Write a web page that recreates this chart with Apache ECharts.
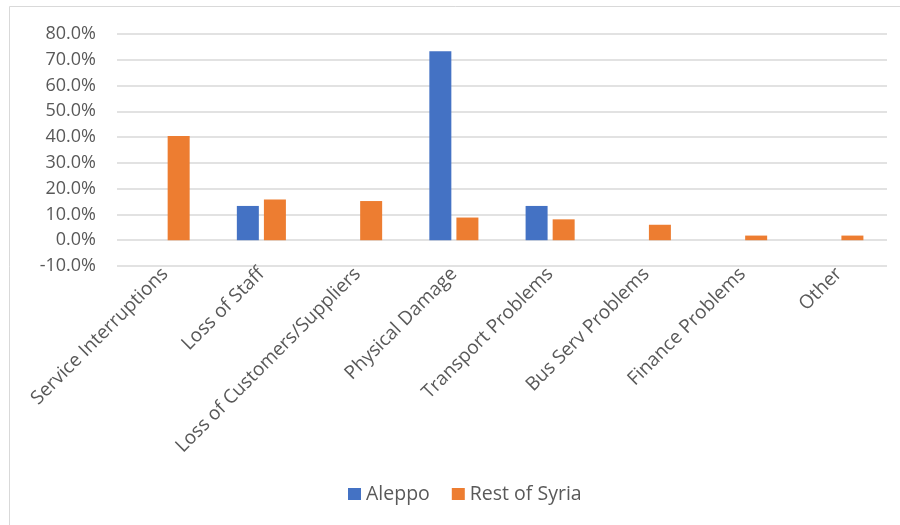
<!DOCTYPE html>
<html>
<head>
<meta charset="utf-8">
<script src="https://cdn.jsdelivr.net/npm/echarts@6/dist/echarts.min.js"></script>
<style>
  html, body { margin: 0; padding: 0; background: #ffffff; }
  #chart { width: 900px; height: 525px; }
</style>
</head>
<body>
<div id="chart"></div>
<script>
// Reported business impacts, share of respondents
const categories = [
  'Service Interruptions', 'Loss of Staff', 'Loss of Customers/Suppliers',
  'Physical Damage', 'Transport Problems', 'Bus Serv Problems',
  'Finance Problems', 'Other'
];
const aleppo      = [0, 0.133, 0, 0.733, 0.133, 0, 0, 0];
const restOfSyria = [0.404, 0.158, 0.152, 0.088, 0.081, 0.060, 0.018, 0.018];
const seriesNames = ['Aleppo', 'Rest of Syria'];
const yMin = -0.1, yMax = 0.8, yStep = 0.1;

const textColor = '#595959';
const fontFamily = '"Open Sans", "Noto Sans", sans-serif';

const chart = echarts.init(document.getElementById('chart'));
chart.setOption({
  backgroundColor: '#ffffff',
  animation: false,
  graphic: [{
    type: 'rect',
    shape: { x: 9.5, y: 6.5, width: 900, height: 600 },
    style: { fill: 'none', stroke: '#d9d9d9', lineWidth: 1 },
    silent: true
  }],
  grid: { left: 117, right: 13, top: 34, bottom: 259, containLabel: false },
  legend: {
    data: seriesNames,
    bottom: 16,
    left: 343,
    icon: 'rect',
    itemWidth: 13,
    itemHeight: 12,
    itemGap: 22,
    textStyle: { color: textColor, fontSize: 19.5, fontFamily: fontFamily }
  },
  xAxis: {
    type: 'category',
    data: categories,
    axisLine: { show: false, onZero: false },
    axisTick: { show: false },
    axisLabel: {
      interval: 0,
      rotate: 45,
      margin: 5,
      color: textColor,
      fontSize: 19,
      fontFamily: fontFamily
    }
  },
  yAxis: {
    type: 'value',
    min: yMin,
    max: yMax,
    interval: yStep,
    axisLine: { show: false },
    axisTick: { show: false },
    splitLine: { lineStyle: { color: '#d9d9d9', width: 1.5 } },
    axisLabel: {
      margin: 21,
      color: textColor,
      fontSize: 18,
      fontFamily: fontFamily,
      formatter: v => (v * 100).toFixed(1) + '%'
    }
  },
  series: [
    {
      name: seriesNames[0],
      type: 'bar',
      data: aleppo,
      barWidth: 22,
      barGap: '23%',
      itemStyle: { color: '#4472c4' }
    },
    {
      name: seriesNames[1],
      type: 'bar',
      data: restOfSyria,
      barWidth: 22,
      itemStyle: { color: '#ed7d31' }
    }
  ]
});
</script>
</body>
</html>
